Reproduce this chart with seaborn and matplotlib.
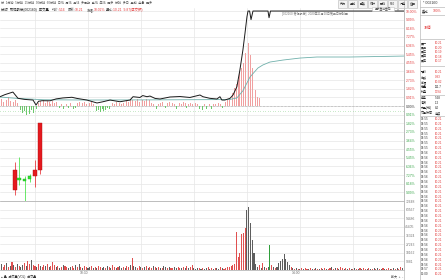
import matplotlib
matplotlib.use("Agg")
import matplotlib.pyplot as plt
from matplotlib.lines import Line2D
from matplotlib.patches import Rectangle
import seaborn as sns

# ---------------- data ----------------
# intraday price line (minutes after 9:30, % change)
price_t = [10.2, 13.0, 17.5, 20.4, 24.0, 28.9, 30.6, 32.0, 34.0, 38.5, 42.0, 45.8, 50.9,
           53.8, 59.4, 65.1, 68.5, 72.5, 78.1, 83.8, 85.5, 89.4, 91.0, 93.4, 95.1, 98.0,
           100.8, 106.4, 112.1, 117.7, 123.4, 125.1, 129.0, 133.0, 134.7, 135.8, 137.5,
           140.4, 142.1, 144.3, 146.0, 147.7, 148.9, 150.0, 150.6, 151.5, 152.3, 153.4,
           161.9, 162.5, 163.3, 238.9]
price_pct = [0.98, 1.20, 1.47, 0.81, 0.70, 0.63, 0.10, 0.50, 0.56, 0.55, 0.75, 0.85, 0.92,
             0.80, 0.63, 0.32, 0.45, 0.63, 0.45, 0.63, 0.98, 0.90, 1.10, 0.98, 1.05, 0.80,
             0.74, 0.95, 1.00, 0.90, 1.16, 0.98, 0.81, 0.74, 0.98, 0.63, 0.63,
             0.81, 1.16, 2.03, 3.79, 5.89, 7.68, 9.40, 10.0, 10.0, 9.10, 10.0,
             10.0, 9.30, 10.0, 10.0]
# average price line
avg_t = [10.2, 20.0, 35.0, 60.0, 100.0, 140.0, 144.3, 147.7, 151.7, 156.2, 159.0, 163.0,
         170.4, 180.0, 189.6, 208.3, 238.9]
avg_pct = [0.95, 0.80, 0.66, 0.63, 0.65, 0.68, 0.85, 1.60, 3.05, 4.00, 4.32, 4.63,
           4.84, 5.05, 5.16, 5.16, 5.26]

minutes = list(range(10, 240))
# buy/sell strength bars in the price pane (%), one per minute from t=10
strength = [
    0.5, 0.7, 0.4, 0.8, 0.6, 0.9, 0.5, 0.7, 0.4, 0.6,
    0.3, 0.5, -0.4, -0.7, -0.5, -0.9, -0.6, -0.8, -0.4, -0.7,
    -0.5, -0.3, 0.3, 0.5, 0.4, 0.6, 0.3, 0.5, 0.4, 0.2,
    0.5, 0.3, 0.4, 0.2, -0.2, 0.2, -0.3, 0.3, 0.2, -0.2,
    0.3, 0.2, -0.3, -0.2, 0.3, 0.4, 0.5, 0.3, 0.4, 0.2,
    0.5, 0.3, 0.4, 0.2, -0.3, -0.5, -0.4, -0.6, -0.3, -0.5,
    -0.4, -0.2, -0.3, 0.2, 0.3, 0.2, 0.4, 0.2, 0.3, 0.2,
    0.3, 0.3, 0.5, 0.4, 0.7, 0.6, 0.9, 0.5, 0.7, 0.4,
    0.8, 0.6, 0.5, 0.7, 0.4, 0.6, 0.3, 0.2, -0.2, -0.3,
    0.2, 0.3, 0.4, 0.2, -0.2, 0.3, 0.4, 0.5, 0.3, 0.2,
    -0.3, -0.2, 0.3, 0.2, 0.4, 0.3, -0.2, 0.2, 0.3, 0.2,
    0.4, 0.3, 0.2, -0.3, -0.2, -0.4, 0.2, -0.3, -0.2, 0.2,
    -0.3, 0.2, 0.2, -0.2, 0.3, 0.2, -0.2, 0.3, 0.4, 0.63,
    0.8, 0.95, 1.4, 1.9, 2.3, 2.7, 3.6, 4.0, 4.5, 5.6,
    7.2, 6.6, 5.4, 4.0, 2.9, 1.7, 0.9, 0.85, 0, 0,
    0, 0, 0, -0.5, 0, 0, 0, 0.6, 0, 0,
    0, 0, 0, 0, 0, 0, 0, 0, 0, 0,
    0, 0, 0, 0, 0, 0, 0, 0, 0, 0,
    0, 0, 0, 0, 0, 0, 0, 0, 0, 0,
    0, 0, 0, 0, 0, 0, 0, 0, 0, 0,
    0, 0, 0, 0, 0, 0, 0, 0, 0, 0,
    0, 0, 0, 0, 0, 0, 0, 0, 0, 0,
    0, 0, 0, 0, 0, 0, 0, 0, 0, 0,
]
# minute volume
volume = [
    4000, 6000, 3000, 5000, 7000, 3000, 4000, 8000, 5000, 3000,
    6000, 4000, 3000, 5000, 7000, 4000, 9000, 6000, 10500, 5000,
    4000, 3000, 6000, 4000, 3000, 5000, 4000, 6000, 3000, 4000,
    8000, 5000, 3000, 4000, 2000, 3000, 5000, 4000, 3000, 2000,
    3000, 4000, 2000, 5000, 3000, 6000, 3000, 2000, 4000, 3000,
    2000, 3000, 4000, 2000, 3000, 2000, 4000, 3000, 2000, 3000,
    2000, 4000, 3000, 2000, 5000, 3000, 2000, 3000, 4000, 2000,
    3000, 2000, 4000, 3000, 5000, 12700, 4000, 3000, 2000, 4000,
    3000, 2000, 3000, 4000, 2000, 3000, 2000, 4000, 3000, 2000,
    3000, 2000, 2000, 4000, 3000, 2000, 3000, 2000, 2000, 3000,
    2000, 3000, 2000, 2000, 3000, 2000, 4000, 2000, 3000, 5000,
    2000, 1500, 2000, 2500, 1500, 2000, 1500, 2000, 3000, 1500,
    2000, 1500, 2500, 2000, 1500, 3000, 2000, 1500, 2500, 3000,
    3000, 4000, 5000, 6000, 40000, 14000, 18000, 38000, 39000, 44000,
    63000, 66500, 50000, 32000, 18000, 6000, 3000, 5000, 2000, 7000,
    3000, 2000, 3000, 26000, 5000, 3000, 2000, 3000, 7000, 10000,
    12000, 16500, 12000, 8000, 5000, 3000, 2000, 1500, 2000, 1000,
    1500, 2000, 1000, 2500, 1500, 1000, 2000, 1500, 1000, 2000,
    1000, 1500, 2500, 1000, 2000, 1500, 1000, 2000, 3000, 1500,
    2500, 2000, 1500, 3000, 2000, 1000, 2500, 1500, 2000, 1000,
    1500, 2000, 1000, 1500, 2500, 1000, 2000, 1500, 1000, 2000,
    1500, 1000, 2000, 1500, 2500, 1000, 1500, 2000, 1000, 1500,
    2000, 1000, 1500, 2500, 1000, 2000, 1500, 3000, 2000, 4000,
]
# r = up minute, g = down minute, G = green minute
vol_dir = ("rgrrgrgrgr" "grggrgrrgr" "rgrgrrgrgr" "rrgrgrgrrg" "grrgrgrgrr"
           "ggrgrgrrgg" "rgrgrrgrgg" "rgrrgrggrr" "grgrgrrgrg" "rgrggrgrrg"
           "grrgrgrgrr" "gggrgrggrg" "rgrggrgrrr" "rrrrrrrrrr" "gggggggrgr"
           "grgGrgrggg" "gggggrgrgr" "grgrrgrgrg" "rgrgrgrrgr" "grgrrgrgrg"
           "rgrgrgrrgr" "grgrgrgrgr" "rgrgrgrrgr")

# daily candles overlaid at the left
candle_t = [18.7, 21.2, 24.1, 26.9, 30.0, 32.8]
candle_open = [-8.84, -7.58, -7.68, -7.37, -7.37, -6.74]
candle_close = [-6.74, -7.79, -7.89, -7.68, -6.74, -1.79]
candle_high = [-5.90, -5.37, -7.37, -7.16, -5.68, -1.79]
candle_low = [-9.37, -8.32, -10.0, -8.00, -8.53, -7.16]

pct_ticks = [10.00, 9.09, 8.18, 7.27, 6.36, 5.45, 4.55, 3.64, 2.73, 1.82, 0.91, 0.00,
             -0.91, -1.82, -2.73, -3.64, -4.55, -5.45, -6.36, -7.27, -8.18, -9.09]
pct_labels = ["10.00%", "9.09%", "8.18%", "7.27%", "6.36%", "5.45%", "4.55%", "3.64%",
              "2.73%", "1.82%", "0.91%", "0.00%", "0.91%", "1.82%", "2.73%", "3.64%",
              "4.55%", "5.45%", "6.36%", "7.27%", "8.18%", "9.09%"]
vol_ticks = [9081, 18162, 27243, 36324, 45405, 54486, 63567, 72648]
vol_labels = ["9081", "18162", "27243", "36324", "45405", "54486", "63567", "72648"]
time_ticks = [60, 180]
time_labels = ["10:30", "14:00"]
grid_times = [30, 60, 90, 120, 150, 180, 210]

menu_items = "分  1分钟  5分钟  15分钟  30分钟  60分钟  日线  周线  月线  多周期  季线  年线  更多  分时  多日  叠加  全景  更多"
buttons = ["两市", "叠加", "聚焦", "统计", "画线", "F10", "闪电", "返回"]
book_names = ["买一", "买二", "买三", "买四", "买五", "现价", "涨跌", "涨幅", "总量", "外盘",
              "换手", "净资", "市盈(动)", "交易状态"]
book_values = ["10.21", "10.20", "10.19", "10.18", "10.17", "10.21", "0.93", "10.02",
               "111.7", "1794", "5.68", "1.2", "8.0", "连续"]
book_red = [True, True, True, True, True, True, True, True, False, True, False, False, False, False]
trade_times = ["14:55"] * 7 + ["14:56"] * 24 + ["14:57", "15:00"]

# ---------------- style ----------------
sns.set_theme(style="white")
plt.rcParams["font.family"] = ["Liberation Sans", "Noto Sans CJK SC", "DejaVu Sans"]
FS = 2.4
RED = "#e23b3b"
GREEN = "#3aa64a"
GRID = "#e6e6e6"

W, H = 445, 280
fig = plt.figure(figsize=(W / 100, H / 100), dpi=100)
fig.patch.set_facecolor("white")


def R(x0, y0, x1, y1):
    return [x0 / W, 1 - y1 / H, (x1 - x0) / W, (y1 - y0) / H]


def T(x, y, s, **kw):
    kw.setdefault("fontsize", FS)
    kw.setdefault("va", "center")
    kw.setdefault("ha", "left")
    kw.setdefault("color", "#333333")
    return fig.text(x / W, 1 - y / H, s, **kw)


def FL(xs, ys, **kw):
    kw.setdefault("color", "#bbbbbb")
    kw.setdefault("lw", 0.5)
    fig.add_artist(Line2D([x / W for x in xs], [1 - y / H for y in ys],
                          transform=fig.transFigure, **kw))


XLIM = (10.2, 238.9)

# ---------------- price pane ----------------
ax_p = fig.add_axes(R(0, 8, 404, 201))
ax_p.set_xlim(*XLIM)
ax_p.set_ylim(-10.0, 10.32)
for lv in pct_ticks:
    ax_p.axhline(lv, color=GRID, lw=0.5, zorder=0)
for t in grid_times:
    ax_p.axvline(t, color=GRID, lw=0.5, zorder=0)
ax_p.axhline(0, color="#777777", lw=0.4, ls=(0, (1, 1.5)), zorder=1)
ax_p.axhline(-0.55, color="#6cc46c", lw=0.6, ls=(0, (0.5, 2.5)), zorder=1)

s_cols = ["#f0a0a0" if v >= 0 else "#6cc86c" for v in strength]
ax_p.bar(minutes, strength, width=0.45, color=s_cols, linewidth=0, zorder=2)

sns.lineplot(x=avg_t, y=avg_pct, ax=ax_p, color="#6fb0ab", lw=0.6, zorder=3)
sns.lineplot(x=price_t, y=price_pct, ax=ax_p, color="#1a1a1a", lw=0.7, zorder=4)

for t, o, c, hi, lo in zip(candle_t, candle_open, candle_close, candle_high, candle_low):
    col = "#e5191f" if c >= o else "#2ee02e"
    ax_p.vlines(t, lo, hi, color=col, lw=0.5, zorder=5)
    body = c - o if abs(c - o) > 0.12 else (0.2 if c >= o else -0.2)
    ax_p.bar(t, body, bottom=o, width=2.2, color=col, linewidth=0.3,
             edgecolor="#b01010" if c >= o else "#20b020", zorder=6)

ax_p.yaxis.tick_right()
ax_p.set_yticks(pct_ticks)
ax_p.set_yticklabels(pct_labels)
for lab, v in zip(ax_p.get_yticklabels(), pct_ticks):
    lab.set_color(RED if v > 0 else ("#333333" if v == 0 else GREEN))
    lab.set_fontsize(FS)
ax_p.tick_params(axis="y", length=0, pad=1.5)
ax_p.set_xticks([])
ax_p.set_xlabel("")
ax_p.set_ylabel("")
for side in ["left", "top", "bottom"]:
    ax_p.spines[side].set_visible(False)
ax_p.spines["right"].set_color("#aaaaaa")
ax_p.spines["right"].set_linewidth(0.5)
ax_p.set_facecolor("none")

# ---------------- volume pane ----------------
ax_v = fig.add_axes(R(0, 201, 404, 270))
ax_v.set_xlim(*XLIM)
ax_v.set_ylim(0, 72858)
for lv in vol_ticks:
    ax_v.axhline(lv, color=GRID, lw=0.5, zorder=0)
for t in grid_times:
    ax_v.axvline(t, color=GRID, lw=0.5, zorder=0)
cmap = {"r": "#e05050", "g": "#5e5e5e", "G": "#2f9e3a"}
v_cols = [cmap[d] for d in vol_dir]
ax_v.bar(minutes, volume, width=0.6, color=v_cols, linewidth=0, zorder=2)
ax_v.yaxis.tick_right()
ax_v.set_yticks(vol_ticks)
ax_v.set_yticklabels(vol_labels, fontsize=FS, color="#777777")
ax_v.set_xticks(time_ticks)
ax_v.set_xticklabels(time_labels, fontsize=FS, color="#666666", ha="right")
ax_v.tick_params(axis="both", length=0, pad=1.0)
for side in ["left"]:
    ax_v.spines[side].set_visible(False)
for side in ["top", "bottom", "right"]:
    ax_v.spines[side].set_color("#aaaaaa")
    ax_v.spines[side].set_linewidth(0.5)
ax_v.set_facecolor("none")

# ---------------- frame / header texts ----------------
T(1, 3.2, menu_items, color="#555555", fontsize=2.2)
T(1, 10, "分时  常铝股份(002160)  成交量", color="#222222")
T(52, 10, "均价:", color="#555555")
T(59, 10, "5.16", color=RED)
T(68, 10, "最新:", color="#555555")
T(75, 10, "10.21", color=RED)
T(87, 10, "涨幅:", color="#555555")
T(94, 10, "10.02%", color=RED)
T(106, 10, "量比:", color="#555555")
T(113, 10, "10.21  9.87(成交额)", color=RED)
T(282, 14, "[002160 常铝股份]  2020年11月20日第二日分时图", color="#777777", fontsize=2.2)

for i, b in enumerate(buttons):
    x0 = 338 + i * 10
    fig.add_artist(Rectangle((x0 / W, 1 - 7.5 / H), 9 / W, 7 / H, transform=fig.transFigure,
                             facecolor="#f4f4f4", edgecolor="#b5b5b5", lw=0.4))
    T(x0 + 4.5, 4, b, ha="center", fontsize=2.2, color="#333333")
fig.add_artist(Rectangle((372 / W, 1 - 11 / H), 22 / W, 4 / H, transform=fig.transFigure,
                         facecolor="white", edgecolor="#c5c5c5", lw=0.4))
T(383, 9, "显示盘前盘后", ha="center", fontsize=2.0, color="#444444")
T(398, 9, "×", ha="center", fontsize=2.4, color="#444444")

FL([404, 404], [0, 280])
FL([420, 420], [0, 280])

# ---------------- right info panel ----------------
T(423, 3.5, "* 002160", color="#333333", fontsize=2.6)
FL([420, 445], [7, 7])
T(422, 11, "委比", color="#222222")
T(433, 11, "100%", color=RED)
FL([420, 445], [15, 15])
T(424, 28, "涨停", color=RED, fontsize=2.8)
FL([420, 445], [39, 39])
ys = [43, 47.5, 52, 56.5, 61, 72, 77, 82, 87, 92, 98, 103, 108, 113]
for name, val, red, y in zip(book_names, book_values, book_red, ys):
    T(421, y, name, color="#222222", fontsize=2.2)
    T(435, y, val, color=RED if red else "#222222", fontsize=2.2)
FL([420, 445], [66, 66])
FL([420, 445], [95, 95])
FL([420, 445], [116, 116])
for i, tt in enumerate(trade_times):
    y = 119 + i * 4.85
    T(421, y, tt, color="#333333", fontsize=2.2)
    T(435, y, "10.21", color=RED, fontsize=2.2)

# ---------------- footer ----------------
T(1, 276.5, "● 量  成交量(VOL)  成交量", color="#333333", fontsize=2.2)
T(391, 277, "放大  +  -", color="#444444", fontsize=2.2)

fig.savefig("out.png", dpi=100, facecolor="white")
